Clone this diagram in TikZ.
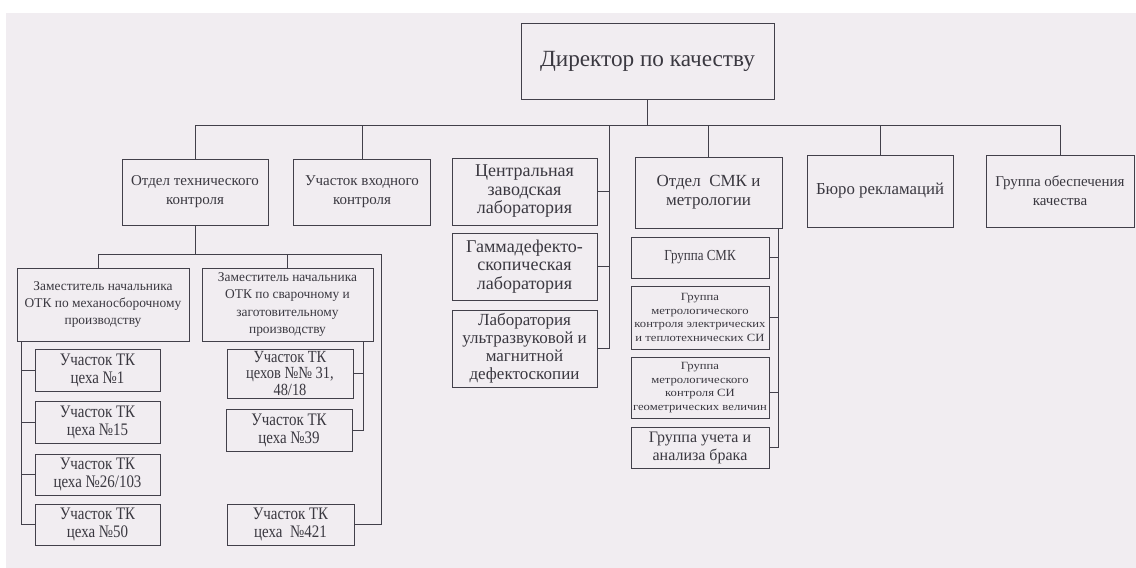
\documentclass[tikz,border=0pt]{standalone}
\usepackage{fontspec}
\setmainfont{Liberation Serif}
\newfontfamily\narrowserif[FakeStretch=0.85]{Liberation Serif}
\newfontfamily\wideserif[FakeStretch=1.15]{Liberation Serif}
\usepackage{xcolor}
\usepackage{tikz}
\usetikzlibrary{positioning,calc}

\definecolor{paper}{RGB}{241,237,241}
\definecolor{ink}{RGB}{58,56,64}
\definecolor{wire}{RGB}{66,64,74}

\begin{document}
\begin{tikzpicture}[
    x=1pt,y=-1pt,
    box/.style={draw=wire,line width=1pt,rectangle,align=center,inner sep=1pt,text=ink},
    link/.style={draw=wire,line width=1pt},
    fA/.style={font=\fontsize{23.2}{27}\selectfont},
    fB/.style={font=\fontsize{15}{19}\selectfont},
    fC/.style={font=\fontsize{17}{19}\selectfont},
    fL/.style={font=\fontsize{18}{18.5}\selectfont},
    fD/.style={font=\narrowserif\fontsize{17.6}{18}\selectfont},
    fE/.style={font=\wideserif\fontsize{11}{13.4}\selectfont},
    fF/.style={font=\fontsize{13.4}{17.2}\selectfont}
]
    % Paper
    \useasboundingbox (0,0) rectangle (1136,568);
    \fill[white] (0,0) rectangle (1136,568);
    \fill[paper] (6,13) rectangle (1136,568);

    % Top
    \node[box,fA,minimum width=253,minimum height=76] (dir) at (647.5,61) {Директор по качеству};

    % Departments
    \node[box,fB,minimum width=146,minimum height=66] (otk) at (195,192) {Отдел технического\\контроля};
    \node[box,fB,minimum width=137,minimum height=66] (vhod) at (362,192) {Участок входного\\контроля};
    \node[box,fL,minimum width=145,minimum height=67] (czl) at (524.5,191.5) {Центральная\\заводская\\лаборатория};
    \node[box,fL,minimum width=145,minimum height=67] (gamma) at (524.5,266.5) {Гаммадефекто-\\скопическая\\лаборатория};
    \node[box,fL,font=\fontsize{17}{18}\selectfont,minimum width=145,minimum height=77] (ultra) at (524.5,348.5) {Лаборатория\\ультразвуковой и\\магнитной\\дефектоскопии};
    \node[box,fC,minimum width=147,minimum height=71] (smk) at (708.5,192.5) {Отдел\ \ СМК и\\метрологии};
    \node[box,fC,font=\fontsize{16.8}{19}\selectfont,minimum width=146,minimum height=72] (buro) at (880,191) {Бюро рекламаций};
    \node[box,fB,minimum width=148,minimum height=72] (gok) at (1060,191) {Группа обеспечения\\качества};

    % Metrology groups
    \node[box,font=\narrowserif\fontsize{15.3}{17}\selectfont,minimum width=138,minimum height=41] (gsmk) at (700,257.5) {Группа СМК};
    \node[box,fE,minimum width=138,minimum height=63] (gel) at (700,317.5) {Группа\\метрологического\\контроля электрических\\и теплотехнических СИ};
    \node[box,fE,minimum width=138,minimum height=61] (ggeo) at (700,387.5) {Группа\\метрологического\\контроля СИ\\геометрических величин};
    \node[box,font=\fontsize{16}{18}\selectfont,minimum width=138,minimum height=41] (guch) at (700,447.5) {Группа учета и\\анализа брака};

    % Deputies
    \node[box,fF,minimum width=172,minimum height=73] (zamA) at (103,304.5) {Заместитель начальника\\ОТК по механосборочному\\производству};
    \node[box,fF,minimum width=171,minimum height=73] (zamB) at (287.5,304.5) {Заместитель начальника\\ОТК по сварочному и\\заготовительному\\производству};

    % Sections
    \node[box,fD,minimum width=125,minimum height=42] (uA) at (97.5,370) {Участок ТК\\цеха №1};
    \node[box,fD,minimum width=125,minimum height=42] (uB) at (97.5,422) {Участок ТК\\цеха №15};
    \node[box,fD,minimum width=125,minimum height=41] (uC) at (97.5,474.5) {Участок ТК\\цеха №26/103};
    \node[box,fD,minimum width=125,minimum height=41] (uD) at (97.5,524.5) {Участок ТК\\цеха №50};
    \node[box,fD,font=\narrowserif\fontsize{17}{16.5}\selectfont,minimum width=126,minimum height=49] (uE) at (290,373.5) {Участок ТК\\цехов №№ 31,\\48/18};
    \node[box,fD,minimum width=126,minimum height=42] (uF) at (289,430) {Участок ТК\\цеха №39};
    \node[box,fD,minimum width=127,minimum height=41] (uG) at (290.5,524.5) {Участок ТК\\цеха \ №421};

    % Main bus
    \draw[link] (dir.south) -- ++(0,26) coordinate (bus);
    \draw[link] (otk.north) |- (bus) -| (gok.north);
    \draw[link] (vhod.north) -- (vhod.north |- bus);
    \draw[link] (smk.north) -- (smk.north |- bus);
    \draw[link] (buro.north) -- (buro.north |- bus);

    % Laboratories
    \coordinate (lab) at (609,125);
    \draw[link] (lab) |- (ultra.east);
    \draw[link] (czl.east) -- (czl.east -| lab);
    \draw[link] (gamma.east) -- (gamma.east -| lab);

    % Metrology
    \coordinate (met) at (778,228);
    \draw[link] (met) |- (guch.east);
    \draw[link] (gsmk.east) -- (gsmk.east -| met);
    \draw[link] (gel.east) -- (gel.east -| met);
    \draw[link] ([yshift=-5pt]ggeo.east) -- ([yshift=-5pt]ggeo.east -| met);

    % Quality control department
    \draw[link] (otk.south) -- ++(0,29) coordinate (sub);
    \coordinate (far) at (381,254);
    \draw[link] ([xshift=-5pt]zamA.north) |- (far) |- (uG.east);
    \draw[link] (zamB.north) -- (zamB.north |- sub);

    % Left sections
    \coordinate (lft) at (21,341);
    \draw[link] (lft) |- (uD.west);
    \draw[link] (uA.west) -- (uA.west -| lft);
    \draw[link] (uB.west) -- (uB.west -| lft);
    \draw[link] (uC.west) -- (uC.west -| lft);

    % Right sections
    \coordinate (rgt) at (363,341);
    \draw[link] (rgt) |- (uF.east);
    \draw[link] (uE.east) -- (uE.east -| rgt);
\end{tikzpicture}
\end{document}
